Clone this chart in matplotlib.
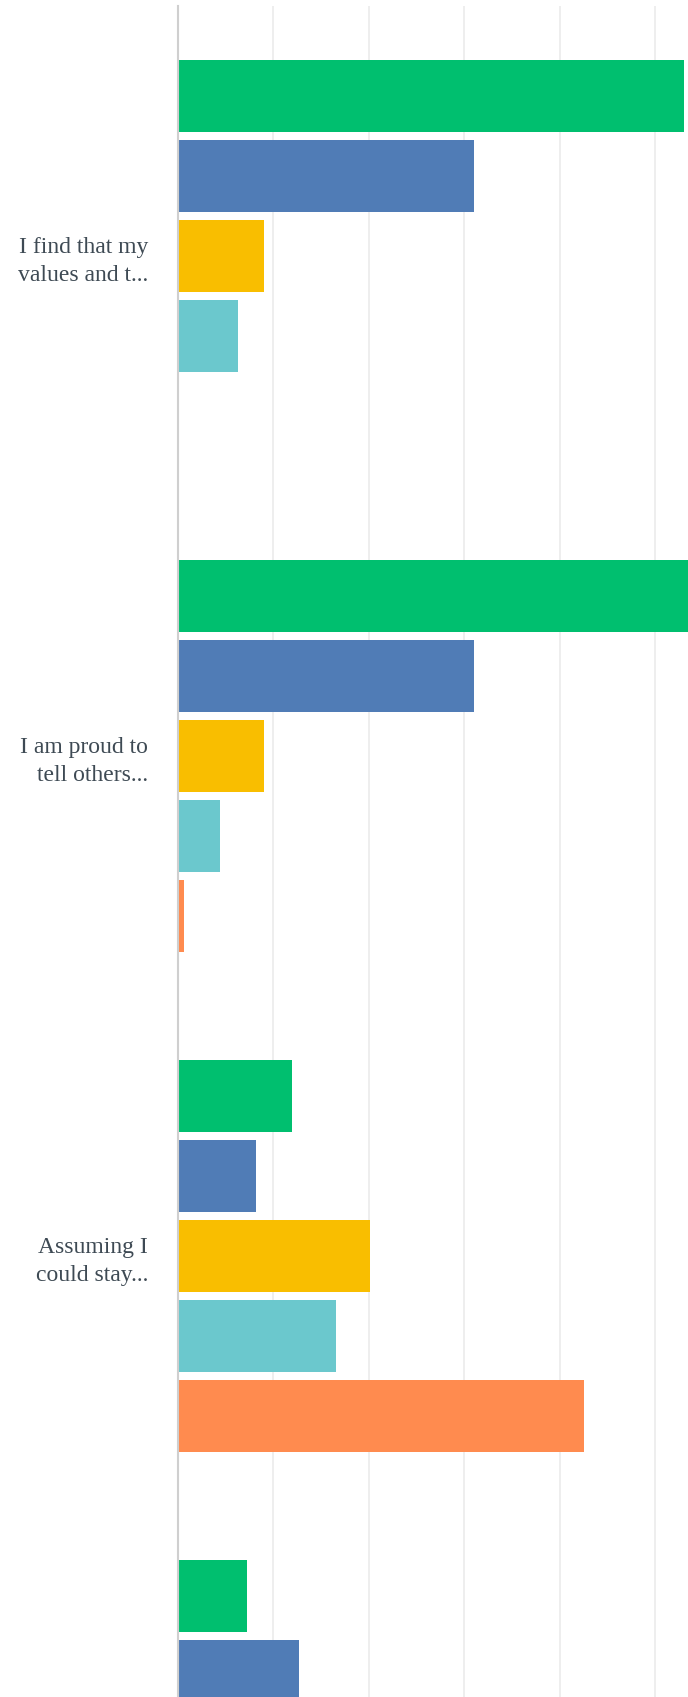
import numpy as np
import matplotlib
matplotlib.use("Agg")
import matplotlib.pyplot as plt

# questions (the 4th one is cut off at the bottom of the picture)
questions = ["I find that my\nvalues and t...",
             "I am proud to\ntell others...",
             "Assuming I\ncould stay...",
             ""]

# answer series, one value per question (percent)
strongly_agree = [53.0, 54.5, 12.0, 7.3]
agree = [31.0, 31.0, 8.2, 12.7]
neutral = [9.1, 9.1, 20.2, 0]
disagree = [6.3, 4.5, 16.6, 0]
strongly_disagree = [0, 0.7, 42.6, 0]

series = [strongly_agree, agree, neutral, disagree, strongly_disagree]
colors = ["#00bf6f", "#507cb6", "#f9be00", "#6bc8cd", "#ff8b4f"]

W, H = 688, 1697
fig = plt.figure(figsize=(W / 100, H / 100), dpi=100)
ax = fig.add_axes([177.5 / W, 0, 1 - 177.5 / W, 1 - 6 / H])

y = np.arange(len(questions))
step = 0.16
for i, (vals, c) in enumerate(zip(series, colors)):
    ax.barh(y + (i - 2) * step, vals, height=0.144, color=c, zorder=2)

ax.set_xticks([10, 20, 30, 40, 50])
ax.set_xticklabels([])
ax.tick_params(axis="x", length=0)
ax.grid(axis="x", color="#ebebeb", linewidth=1.2)
ax.set_axisbelow(True)

ax.set_yticks(y)
ax.set_yticklabels(questions, fontsize=17, color="#3e4a54",
                   family="Liberation Serif", linespacing=1.4)
ax.tick_params(axis="y", length=0, pad=21)

# limits last, set_yticks would widen them otherwise
ax.set_xlim(0, (W - 177.5) / 9.55)
ax.set_ylim(2.882, -0.5)

for s in ["top", "right", "bottom"]:
    ax.spines[s].set_visible(False)
ax.spines["left"].set_color("#cfcfcf")
ax.spines["left"].set_linewidth(1.5)

fig.savefig("out.png", dpi=100)
